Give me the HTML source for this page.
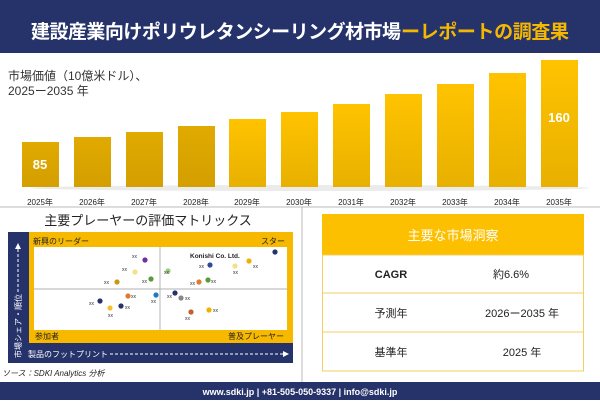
<!DOCTYPE html>
<html><head><meta charset="utf-8"><style>
body{margin:0;width:600px;height:400px;overflow:hidden;background:#fff;font-family:"Liberation Sans","Noto Sans CJK JP",sans-serif}
</style></head><body>
<svg width="600" height="400" xmlns="http://www.w3.org/2000/svg" font-family="Liberation Sans, Noto Sans CJK JP, sans-serif">
<defs>
<linearGradient id="g1" x1="0" y1="0" x2="0" y2="1"><stop offset="0" stop-color="#e0aa00"/><stop offset="1" stop-color="#d49f00"/></linearGradient>
<linearGradient id="g2" x1="0" y1="0" x2="0" y2="1"><stop offset="0" stop-color="#ffc300"/><stop offset="1" stop-color="#e8b000"/></linearGradient>
</defs>
<rect x="0" y="0" width="600" height="53" fill="#26336b"/>
<text x="31" y="38" font-size="19" font-weight="bold" fill="#fff" textLength="370">建設産業向けポリウレタンシーリング材市場</text>
<text x="401" y="38" font-size="19" font-weight="bold" fill="#f5b800" textLength="168">ーレポートの調査果</text>
<text x="8" y="80" font-size="12" fill="#333">市場価値（10億米ドル）、</text>
<text x="8" y="95" font-size="12" fill="#333">2025ー2035 年</text>
<ellipse cx="310" cy="188" rx="280" ry="3" fill="#ddd" opacity="0.6"/>
<g>
<rect x="22" y="142" width="37" height="45" fill="url(#g1)"/>
<rect x="74" y="137" width="37" height="50" fill="url(#g1)"/>
<rect x="126" y="132" width="37" height="55" fill="url(#g1)"/>
<rect x="178" y="126" width="37" height="61" fill="url(#g1)"/>
<rect x="229" y="119" width="37" height="68" fill="url(#g2)"/>
<rect x="281" y="112" width="37" height="75" fill="url(#g2)"/>
<rect x="333" y="104" width="37" height="83" fill="url(#g2)"/>
<rect x="385" y="94" width="37" height="93" fill="url(#g2)"/>
<rect x="437" y="84" width="37" height="103" fill="url(#g2)"/>
<rect x="489" y="73" width="37" height="114" fill="url(#g2)"/>
<rect x="541" y="60" width="37" height="127" fill="url(#g2)"/>
</g>
<text x="40" y="169" font-size="13" font-weight="bold" fill="#fff" text-anchor="middle">85</text>
<text x="559" y="122" font-size="13" font-weight="bold" fill="#fff" text-anchor="middle">160</text>
<g font-size="8" fill="#222" text-anchor="middle">
<text x="40" y="205">2025年</text><text x="92" y="205">2026年</text><text x="144" y="205">2027年</text><text x="196" y="205">2028年</text><text x="247" y="205">2029年</text><text x="299" y="205">2030年</text><text x="351" y="205">2031年</text><text x="403" y="205">2032年</text><text x="455" y="205">2033年</text><text x="507" y="205">2034年</text><text x="559" y="205">2035年</text>
</g>
<line x1="0" y1="207" x2="600" y2="207" stroke="#bbb" stroke-width="1"/>
<line x1="302" y1="207" x2="302" y2="382" stroke="#bbb" stroke-width="1"/>
<text x="148" y="225" font-size="13" fill="#222" text-anchor="middle">主要プレーヤーの評価マトリックス</text>
<rect x="8" y="232" width="285" height="131" fill="#26336b"/>
<rect x="29" y="232" width="264" height="111" fill="#f7b800"/>
<rect x="34" y="247" width="253" height="83" fill="#fff"/>
<line x1="160" y1="247" x2="160" y2="330" stroke="#999" stroke-width="0.7"/>
<line x1="34" y1="289" x2="287" y2="289" stroke="#999" stroke-width="0.7"/>
<g font-size="8" fill="#222">
<text x="33" y="244">新興のリーダー</text>
<text x="285" y="244" text-anchor="end">スター</text>
<text x="35" y="339">参加者</text>
<text x="284" y="339" text-anchor="end">普及プレーヤー</text>
<text x="190" y="258" font-size="6.5" font-weight="bold">Konishi Co. Ltd.</text>
</g>
<text x="28" y="357" font-size="8" fill="#fff">製品のフットプリント</text>
<line x1="110" y1="354" x2="285" y2="354" stroke="#fff" stroke-dasharray="3,2"/>
<polygon points="289,354 283,351 283,357" fill="#fff"/>
<line x1="18" y1="292" x2="18" y2="248" stroke="#fff" stroke-dasharray="3,2"/>
<polygon points="18,243 15,249 21,249" fill="#fff"/>
<text x="0" y="0" font-size="8" fill="#fff" transform="translate(21,358) rotate(-90)">市場シェア・順位</text>
<g>
<circle cx="275" cy="252" r="2.6" fill="#26336b"/><circle cx="249" cy="261" r="2.6" fill="#f0b000"/><circle cx="235" cy="266" r="2.6" fill="#f5e08a"/><circle cx="210" cy="265" r="2.6" fill="#2f4a9a"/><circle cx="208" cy="280" r="2.6" fill="#5a9a3a"/><circle cx="199" cy="282" r="2.6" fill="#e07a30"/><circle cx="168" cy="271" r="2.6" fill="#9ccc80"/><circle cx="145" cy="260" r="2.6" fill="#7030a0"/><circle cx="135" cy="272" r="2.6" fill="#f5e08a"/><circle cx="151" cy="279" r="2.6" fill="#5a9a3a"/><circle cx="117" cy="282" r="2.6" fill="#c89a10"/><circle cx="128" cy="296" r="2.6" fill="#e07a30"/><circle cx="156" cy="295" r="2.6" fill="#1f7ac0"/><circle cx="100" cy="301" r="2.6" fill="#26336b"/><circle cx="121" cy="306" r="2.6" fill="#26336b"/><circle cx="110" cy="308" r="2.6" fill="#f5c030"/><circle cx="175" cy="293" r="2.6" fill="#26336b"/><circle cx="181" cy="298" r="2.6" fill="#888"/><circle cx="191" cy="312" r="2.6" fill="#c0602a"/><circle cx="209" cy="310" r="2.6" fill="#f0b000"/>
</g>
<g font-size="5" fill="#333">
<text x="132" y="258">xx</text><text x="122" y="271">xx</text><text x="104" y="284">xx</text><text x="142" y="283">xx</text><text x="164" y="274">xx</text><text x="199" y="268">xx</text><text x="253" y="268">xx</text><text x="233" y="274">xx</text><text x="211" y="283">xx</text><text x="190" y="285">xx</text><text x="131" y="298">xx</text><text x="151" y="303">xx</text><text x="89" y="305">xx</text><text x="125" y="309">xx</text><text x="108" y="317">xx</text><text x="167" y="298">xx</text><text x="185" y="300">xx</text><text x="185" y="320">xx</text><text x="213" y="312">xx</text>
</g>
<text x="2" y="376" font-size="8" font-style="italic" fill="#222">ソース：SDKI Analytics 分析</text>
<rect x="322" y="214" width="262" height="41" fill="#fcc000"/>
<text x="453" y="240" font-size="13" fill="#fff" text-anchor="middle">主要な市場洞察</text>
<rect x="322.5" y="255" width="261" height="116" fill="#fff" stroke="#f0d060" stroke-width="1"/>
<line x1="322" y1="293" x2="584" y2="293" stroke="#f0d060"/>
<line x1="322" y1="332" x2="584" y2="332" stroke="#f0d060"/>
<g font-size="11" fill="#222" text-anchor="middle">
<text x="391" y="278" font-weight="bold">CAGR</text><text x="511" y="278">約6.6%</text>
<text x="391" y="317">予測年</text><text x="522" y="317">2026ー2035 年</text>
<text x="391" y="356">基準年</text><text x="522" y="356">2025 年</text>
</g>
<rect x="0" y="382" width="600" height="18" fill="#26336b"/>
<text x="300" y="395" font-size="9" font-weight="bold" fill="#fff" text-anchor="middle">www.sdki.jp | +81-505-050-9337 | info@sdki.jp</text>
</svg>
</body></html>
